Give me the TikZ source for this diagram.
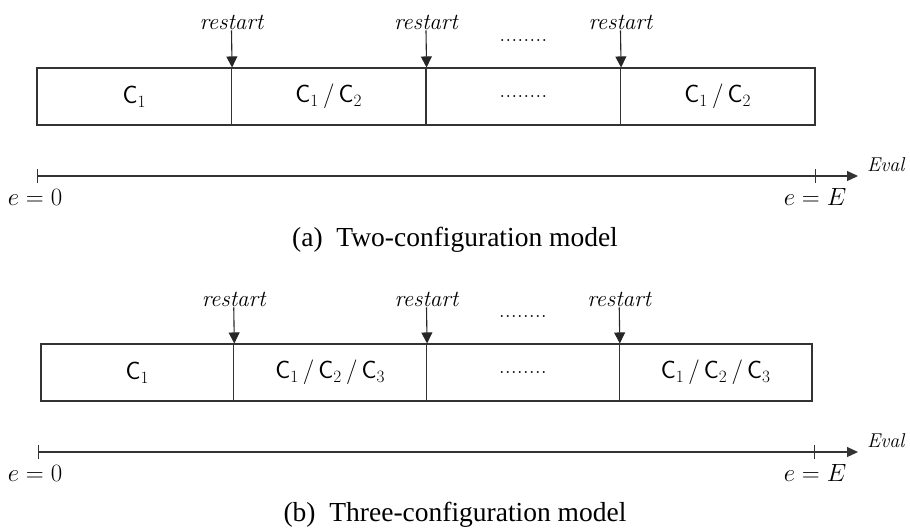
\documentclass[tikz,border=0pt]{standalone}
\usepackage{fontspec}
\usetikzlibrary{arrows.meta}
\newfontfamily\capfont{Liberation Serif}
\begin{document}
\begin{tikzpicture}[x=1pt,y=-1pt,
  seg/.style={draw=black!80,line width=1.1pt,minimum height=57pt,inner sep=0pt,font=\fontsize{25}{29}\selectfont},
  seg2/.style={seg,minimum width=192.75pt},
  seg1/.style={seg,minimum width=194.5pt},
  rlabel/.style={font=\fontsize{23}{26}\selectfont\itshape,inner sep=1pt,anchor=base},
  rarrow/.style={draw=black!85,line width=1.1pt,-{Triangle[length=11pt,width=11pt]}},
  axis/.style={draw=black!80,line width=1.1pt,-{Triangle[length=11pt,width=10pt]}},
  tickline/.style={draw=black!80,line width=0.9pt},
  dots/.style={font=\fontsize{24}{28}\selectfont,inner sep=0pt},
  elabel/.style={font=\fontsize{25}{29}\selectfont,inner sep=0pt},
  evallabel/.style={font=\fontsize{20}{24}\selectfont,inner sep=0pt,anchor=west},
  captext/.style={font=\capfont\fontsize{27.5}{32}\selectfont,inner sep=0pt}]
\useasboundingbox (0,0) rectangle (910,531);
% ---------- (a) ----------
\node[seg1] (a1) at (134.25,96.5) {$\mathsf{C}_1$};
\node[seg1] (a2) at (328.75,96.5) {$\mathsf{C}_1\,/\,\mathsf{C}_2$};
\node[seg1] (a3) at (523.25,96.5) {};
\node[seg1] (a4) at (717.75,96.5) {$\mathsf{C}_1\,/\,\mathsf{C}_2$};
\node[dots] (ad) at (523.25,96.5) {........};
\node[rlabel] (ar1) at (231.5,29) {restart};
\node[rlabel] (ar2) at (426,29) {restart};
\node[rlabel] (ar3) at (620.5,29) {restart};
\node[dots] (adt) at (523.25,41) {........};
\draw[rarrow] (ar1.south) -- (a1.north east);
\draw[rarrow] (ar2.south) -- (a2.north east);
\draw[rarrow] (ar3.south) -- (a3.north east);
\coordinate (ax0) at (37,176);
\coordinate (axE) at (815,176);
\coordinate (axend) at (858,176);
\draw[axis] (ax0) -- (axend);
\draw[tickline] ([yshift=-7pt]ax0) -- ([yshift=7pt]ax0);
\draw[tickline] ([yshift=-7pt]axE) -- ([yshift=7pt]axE);
\node[evallabel] (aeval) at (867,165) {$\mathit{Eval}$};
\node[elabel] (ae0) at (35,197) {$e=0$};
\node[elabel] (aeE) at (815,197) {$e=E$};
\node[captext] (acap) at (455,240) {(a)\ \ Two-configuration model};
% ---------- (b) ----------
\node[seg2] (b1) at (137.375,372.5) {$\mathsf{C}_1$};
\node[seg2] (b2) at (330.125,372.5) {$\mathsf{C}_1\,/\,\mathsf{C}_2\,/\,\mathsf{C}_3$};
\node[seg2] (b3) at (522.875,372.5) {};
\node[seg2] (b4) at (715.625,372.5) {$\mathsf{C}_1\,/\,\mathsf{C}_2\,/\,\mathsf{C}_3$};
\node[dots] (bd) at (522.875,372.5) {........};
\node[rlabel] (br1) at (233.75,306) {restart};
\node[rlabel] (br2) at (426.5,306) {restart};
\node[rlabel] (br3) at (619.25,306) {restart};
\node[dots] (bdt) at (522.875,317) {........};
\draw[rarrow] (br1.south) -- (b1.north east);
\draw[rarrow] (br2.south) -- (b2.north east);
\draw[rarrow] (br3.south) -- (b3.north east);
\coordinate (bx0) at (38,452);
\coordinate (bxE) at (814,452);
\coordinate (bxend) at (858,452);
\draw[axis] (bx0) -- (bxend);
\draw[tickline] ([yshift=-7pt]bx0) -- ([yshift=7pt]bx0);
\draw[tickline] ([yshift=-7pt]bxE) -- ([yshift=7pt]bxE);
\node[evallabel] (beval) at (867,441) {$\mathit{Eval}$};
\node[elabel] (be0) at (35,473) {$e=0$};
\node[elabel] (beE) at (815,473) {$e=E$};
\node[captext] (bcap) at (455,515) {(b)\ \ Three-configuration model};
\end{tikzpicture}
\end{document}
